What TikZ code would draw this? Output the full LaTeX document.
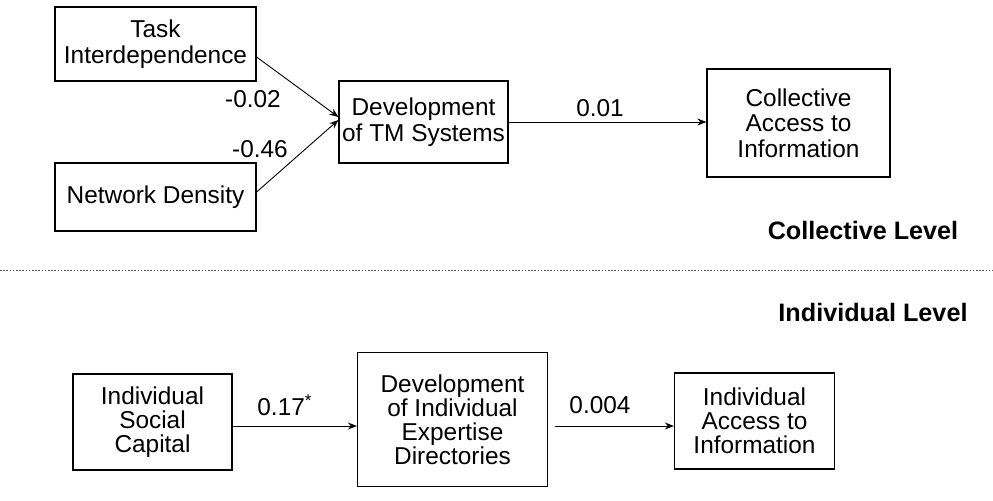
\documentclass[tikz,border=0pt]{standalone}
\usepackage{fontspec}
\setmainfont{Liberation Sans}
\usetikzlibrary{arrows.meta,calc}
\begin{document}
\begin{tikzpicture}[x=0.5pt,y=-0.5pt,
  box/.style={draw,line width=0.6pt,align=center,inner sep=0pt,font=\fontsize{12.2}{12.8}\selectfont},
  lbl/.style={inner sep=0pt,font=\fontsize{12.2}{12.8}\selectfont},
  lvl/.style={inner sep=0pt,font=\fontsize{12.6}{13}\selectfont\bfseries},
  conn/.style={line width=0.45pt,-{Stealth[length=4.5pt,width=3.5pt]}}]
\useasboundingbox (0,0) rectangle (993,500);
% collective level
\node[box,minimum width=100.5pt,minimum height=37pt] (task) at (155.5,44) {Task\\Interdependence};
\node[box,minimum width=100.5pt,minimum height=34pt] (net) at (155.5,197) {Network Density};
\node[box,minimum width=84.5pt,minimum height=41pt] (devtm) at (423.5,122) {Development\\of TM Systems};
\node[box,minimum width=91.5pt,minimum height=54pt] (coll) at (798.5,123) {Collective\\Access to\\Information};
\draw[conn] ([yshift=-6.5pt]task.east) -- ([yshift=2.5pt]devtm.west);
\draw[conn] ([yshift=2.5pt]net.east) -- ([yshift=1pt]devtm.west);
\draw[conn] (devtm.east) -- (devtm.east -| coll.west);
\node[lbl] (l1) at (253,99) {-0.02};
\node[lbl] (l2) at (260,149) {-0.46};
\node[lbl] (l3) at (600,108) {0.01};
\node[lvl] (cl) at (863,230) {Collective Level};
% separator
\coordinate (sepL) at (0,270);
\coordinate (sepR) at (993,270);
\draw[gray!70!black,line width=0.4pt,dash pattern=on 0.8pt off 0.8pt] (sepL) -- (sepR);
% individual level
\node[lvl] (il) at (873,312) {Individual Level};
\node[box,minimum width=79.5pt,minimum height=48pt,font=\fontsize{12.2}{12}\selectfont] (isc) at (152.5,422) {Individual\\Social\\Capital};
\node[box,minimum width=95pt,minimum height=67pt,font=\fontsize{12.2}{12}\selectfont] (devind) at (452.5,419.5) {Development\\of Individual\\Expertise\\Directories};
\node[box,minimum width=80pt,minimum height=48pt,font=\fontsize{12.2}{12}\selectfont] (indacc) at (754.5,421) {Individual\\Access to\\Information};
\draw[conn] ([yshift=-2pt]isc.east) -- ([yshift=-2pt]isc.east -| devind.west);
\draw[conn,shorten <=3.5pt] ([yshift=-2pt]isc.east -| devind.east) -- ([yshift=-2pt]isc.east -| indacc.west);
\node[lbl] (l4) at (285,405) {0.17\textsuperscript{*}};
\node[lbl] (l5) at (600,405) {0.004};
\end{tikzpicture}
\end{document}
